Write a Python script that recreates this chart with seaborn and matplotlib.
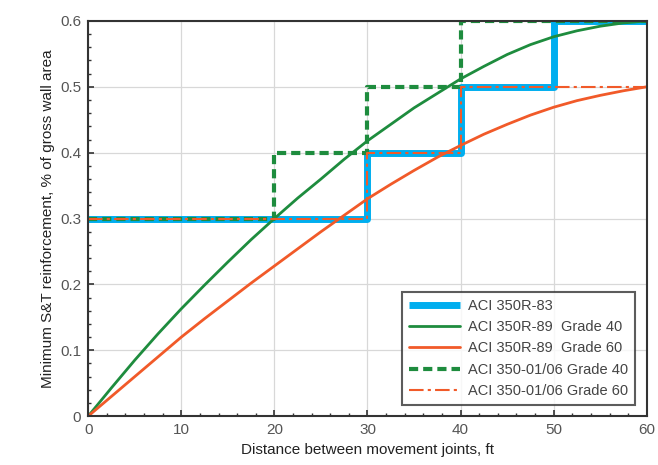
import numpy as np
import pandas as pd
import matplotlib
matplotlib.use("Agg")
import matplotlib.pyplot as plt
import seaborn as sns
from matplotlib.ticker import MultipleLocator

# Curves (every 2.5 ft)
dist = [0, 2.5, 5, 7.5, 10, 12.5, 15, 17.5, 20, 22.5, 25, 27.5, 30,
        32.5, 35, 37.5, 40, 42.5, 45, 47.5, 50, 52.5, 55, 57.5, 60]
r89_g40 = [0, 0.043, 0.085, 0.125, 0.163, 0.199, 0.234, 0.268, 0.30, 0.331, 0.36, 0.39, 0.418,
           0.443, 0.468, 0.49, 0.512, 0.531, 0.549, 0.564, 0.576, 0.585, 0.592, 0.597, 0.60]
r89_g60 = [0, 0.03, 0.06, 0.09, 0.12, 0.148, 0.175, 0.202, 0.228, 0.254, 0.28, 0.305, 0.33,
           0.352, 0.373, 0.393, 0.411, 0.428, 0.443, 0.457, 0.469, 0.479, 0.487, 0.494, 0.50]

# Step limits
step_x = [0, 20, 30, 40, 50, 60]
r83 = [0.3, 0.3, 0.4, 0.5, 0.6, 0.6]
aci350_g40 = [0.3, 0.4, 0.5, 0.6, 0.6, 0.6]
aci350_g60 = [0.3, 0.3, 0.4, 0.5, 0.5, 0.5]

blue = "#00AEEF"
green = "#1E8C3E"
orange = "#F15A29"

sns.set_theme(style="white")
plt.rcParams['font.family'] = ['Liberation Sans', 'DejaVu Sans']

fig, ax = plt.subplots(figsize=(6.58, 4.65), dpi=100)
fig.subplots_adjust(left=0.134, right=0.983, top=0.955, bottom=0.105)

sns.lineplot(x=step_x, y=r83, ax=ax, color=blue, lw=5, drawstyle="steps-post",
             label="ACI 350R-83", solid_capstyle="butt")
sns.lineplot(x=dist, y=r89_g40, ax=ax, color=green, lw=2, label="ACI 350R-89  Grade 40")
sns.lineplot(x=dist, y=r89_g60, ax=ax, color=orange, lw=2, label="ACI 350R-89  Grade 60")
sns.lineplot(x=step_x, y=aci350_g40, ax=ax, color=green, lw=3, drawstyle="steps-post",
             label="ACI 350-01/06 Grade 40")
ax.lines[-1].set_dashes([2.2, 1.2])
sns.lineplot(x=step_x, y=aci350_g60, ax=ax, color=orange, lw=1.5, drawstyle="steps-post",
             label="ACI 350-01/06 Grade 60")
ax.lines[-1].set_dashes([7, 2, 1.5, 2])

ax.set_xlim(0, 60)
ax.set_ylim(0, 0.6)
ax.xaxis.set_major_locator(MultipleLocator(10))
ax.xaxis.set_minor_locator(MultipleLocator(2))
ax.yaxis.set_major_locator(MultipleLocator(0.1))
ax.yaxis.set_minor_locator(MultipleLocator(0.02))
ax.set_yticks([0, 0.1, 0.2, 0.3, 0.4, 0.5, 0.6])
ax.set_yticklabels(["0", "0.1", "0.2", "0.3", "0.4", "0.5", "0.6"])
ax.grid(True, which="major", color="#d8d8d8", lw=0.9)
ax.tick_params(which="both", direction="in", left=True, bottom=True,
               colors="#333333", labelcolor="#555555", labelsize=11)
ax.tick_params(which="major", length=4, width=1.2, pad=5)
ax.tick_params(which="minor", length=2.5, width=1)
for s in ax.spines.values():
    s.set_color("#333333")
    s.set_linewidth(1.5)

ax.set_xlabel("Distance between movement joints, ft", fontsize=11, color="#222222", labelpad=4)
ax.set_ylabel("Minimum S&T reinforcement, % of gross wall area", fontsize=11, color="#222222", labelpad=4)

leg = ax.legend(loc="lower right", fontsize=10.5, frameon=True, fancybox=False,
                edgecolor="#333333", borderaxespad=0.8, handlelength=3.5,
                labelspacing=0.5, borderpad=0.45, handletextpad=0.6)
leg.get_frame().set_linewidth(1.5)
for t in leg.get_texts():
    t.set_color("#444444")

fig.savefig("out.png", dpi=100)
